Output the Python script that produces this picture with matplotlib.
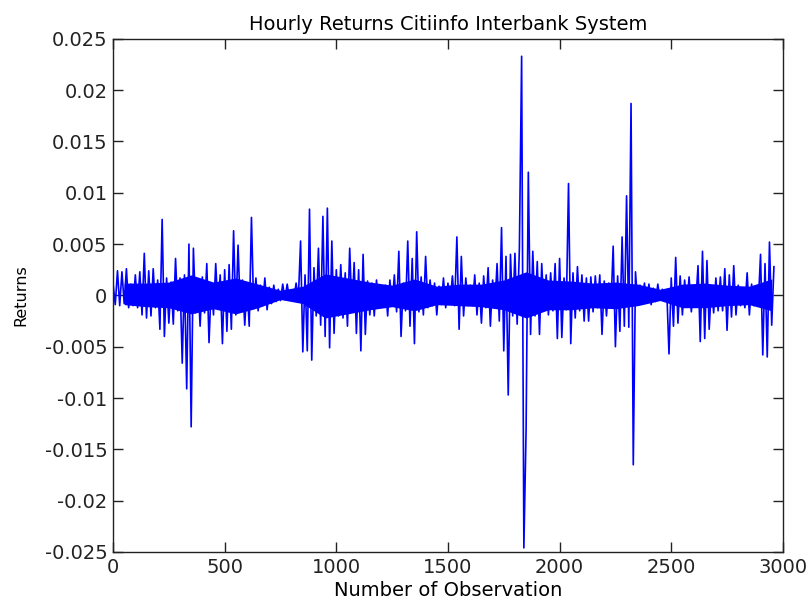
"""
Gráfico dos retornos horários - Citiinfo Interbank System
"""

import numpy as np
import matplotlib
matplotlib.use('Agg')
import matplotlib.pyplot as plt

matplotlib.rcParams['font.family'] = 'DejaVu Sans'
plt.rcParams.update({'font.size': 14})

# Retornos (em unidades de 1e-3), um valor a cada 10 observações
ret_0000 = [1.2, -0.9, 2.4, -1.0, 2.3, -0.8, 2.6, -1.2, 1.1, -1.0]
ret_0100 = [2.0, -1.2, 2.3, -1.9, 4.1, -2.2, 2.4, -2.0, 2.6, -1.2]
ret_0200 = [1.5, -3.3, 7.4, -4.0, 1.7, -2.7, 1.3, -2.8, 3.6, -1.5]
ret_0300 = [1.7, -6.6, 2.0, -9.1, 5.0, -12.8, 4.6, -1.7, 1.5, -3.0]
ret_0400 = [1.8, -1.7, 3.1, -4.6, 1.2, -1.9, 3.1, -1.3, 2.0, -4.7]
ret_0500 = [2.5, -3.5, 3.0, -3.3, 6.3, -1.9, 4.9, -1.5, 1.5, -2.9]
ret_0600 = [1.2, -3.0, 7.6, -1.3, 1.7, -1.5, 1.0, -1.0, 1.7, -1.4]
ret_0700 = [0.8, -0.8, 1.0, -0.6, 0.6, -0.5, 1.1, -0.4, 1.1, -0.3]
ret_0800 = [0.5, -0.3, 1.2, -0.4, 5.3, -5.5, 2.0, -5.4, 8.4, -6.3]
ret_0900 = [2.7, -2.0, 4.6, -2.9, 7.7, -4.0, 8.5, -5.1, 5.3, -3.7]
ret_1000 = [2.5, -2.0, 3.0, -2.2, 2.2, -3.0, 4.6, -1.5, 3.2, -3.7]
ret_1100 = [2.5, -5.4, 4.0, -3.8, 1.4, -1.9, 1.2, -2.0, 1.5, -1.1]
ret_1200 = [0.9, -1.0, 1.0, -2.0, 1.5, -1.0, 2.0, -1.6, 4.3, -4.0]
ret_1300 = [1.2, -1.5, 5.3, -3.0, 3.6, -4.7, 6.2, -1.6, 1.8, -1.9]
ret_1400 = [3.8, -1.2, 1.5, -1.0, 1.2, -1.9, 0.9, -0.9, 1.7, -1.2]
ret_1500 = [1.2, -0.8, 1.9, -1.0, 5.7, -3.3, 3.8, -2.0, 1.7, -1.0]
ret_1600 = [1.0, -1.0, 2.0, -1.9, 1.2, -2.7, 1.9, -1.2, 2.7, -3.0]
ret_1700 = [1.5, -1.2, 3.1, -2.5, 6.6, -5.4, 3.8, -9.7, 4.0, -2.0]
ret_1800 = [4.1, -2.8, 4.6, 23.3, -24.6, -13.1, 12.0, -3.8, 4.3, -2.0]
ret_1900 = [3.3, -3.8, 3.1, -1.5, 2.0, -1.9, 2.2, -1.5, 3.1, -4.2]
ret_2000 = [3.6, -4.1, 1.7, -1.4, 10.9, -4.7, 2.2, -2.2, 2.8, -1.5]
ret_2100 = [2.0, -2.5, 1.7, -2.5, 1.8, -1.6, 1.9, -1.2, 2.0, -3.8]
ret_2200 = [1.4, -2.0, 1.2, -1.2, 4.8, -5.0, 1.9, -3.5, 5.7, -3.0]
ret_2300 = [9.7, -3.1, 18.7, -16.5, 2.3, -0.9, 1.0, -0.8, 1.2, -0.7]
ret_2400 = [1.1, -0.9, 0.7, -0.6, 1.1, -0.4, 0.6, -0.4, 0.5, -5.7]
ret_2500 = [1.7, -3.0, 3.7, -2.7, 1.9, -1.9, 1.5, -1.1, 1.8, -1.6]
ret_2600 = [0.7, -0.7, 2.9, -4.5, 4.3, -4.2, 3.4, -3.3, 0.9, -1.7]
ret_2700 = [1.7, -1.5, 1.8, -1.5, 2.6, -3.4, 2.0, -2.1, 2.9, -1.9]
ret_2800 = [1.0, -1.0, 0.7, -1.2, 2.2, -1.9, 1.1, -1.0, 0.9, -0.8]
ret_2900 = [4.0, -5.8, 3.1, -6.0, 5.2, -2.9, 2.8]

passo = 10  # observações entre valores lidos

# Faixa densa central (núcleo) lida a cada 100 observações, em 1e-3
nucleo_sup = [1.2, 1.2, 1.3, 2.0, 1.3, 1.7, 1.1, 0.5, 0.9, 2.1,
              1.7, 1.3, 1.0, 1.6, 0.9, 1.1, 1.1, 1.5, 2.3, 1.5,
              1.4, 1.2, 1.3, 1.1, 0.6, 1.1, 1.2, 1.0, 0.9, 1.6]
nucleo_inf = [-0.9, -1.1, -1.2, -1.8, -1.3, -1.8, -1.2, -0.4, -0.8, -2.2,
              -1.8, -1.4, -1.1, -1.5, -0.9, -1.0, -1.1, -1.4, -2.2, -1.4,
              -1.4, -1.2, -1.3, -1.0, -0.5, -1.2, -1.2, -1.0, -0.9, -1.5]
passo_nucleo = 100

x_ticks = [0, 500, 1000, 1500, 2000, 2500, 3000]
y_ticks = [-0.025, -0.02, -0.015, -0.01, -0.005, 0, 0.005, 0.01, 0.015, 0.02, 0.025]
y_tick_labels = ['-0.025', '-0.02', '-0.015', '-0.01', '-0.005', '0',
                 '0.005', '0.01', '0.015', '0.02', '0.025']

# Montar a série
retornos = np.array(
    ret_0000 + ret_0100 + ret_0200 + ret_0300 + ret_0400 + ret_0500 +
    ret_0600 + ret_0700 + ret_0800 + ret_0900 + ret_1000 + ret_1100 +
    ret_1200 + ret_1300 + ret_1400 + ret_1500 + ret_1600 + ret_1700 +
    ret_1800 + ret_1900 + ret_2000 + ret_2100 + ret_2200 + ret_2300 +
    ret_2400 + ret_2500 + ret_2600 + ret_2700 + ret_2800 + ret_2900
) * 1e-3
observacoes = np.arange(len(retornos)) * passo

obs_nucleo = np.arange(len(nucleo_sup)) * passo_nucleo + passo_nucleo / 2
sup = np.array(nucleo_sup) * 1e-3
inf = np.array(nucleo_inf) * 1e-3

# Criar figura
fig = plt.figure(figsize=(8.09, 6.03), dpi=100)
ax = fig.add_axes([0.1397, 0.0846, 0.828, 0.851])

azul = '#0000ff'
ax.fill_between(obs_nucleo, inf, sup, color=azul, linewidth=0)
ax.plot(observacoes, retornos, color=azul, linewidth=1.2)

# Configurar o gráfico (estilo MATLAB)
ax.set_xlim(0, 3000)
ax.set_ylim(-0.025, 0.025)
ax.set_xticks(x_ticks)
ax.set_xticklabels([str(t) for t in x_ticks])
ax.set_yticks(y_ticks)
ax.set_yticklabels(y_tick_labels)
ax.tick_params(direction='in', length=7, width=1, top=True, right=True,
               colors='#222222', labelsize=14, pad=4)
for spine in ax.spines.values():
    spine.set_color('#222222')
    spine.set_linewidth(1)

ax.set_title('Hourly Returns Citiinfo Interbank System', fontsize=14, pad=6)
ax.set_xlabel('Number of Observation', fontsize=14, labelpad=3)
ax.set_ylabel('Returns', fontsize=11.5, labelpad=12)

plt.savefig('out.png', dpi=100)
plt.close()
